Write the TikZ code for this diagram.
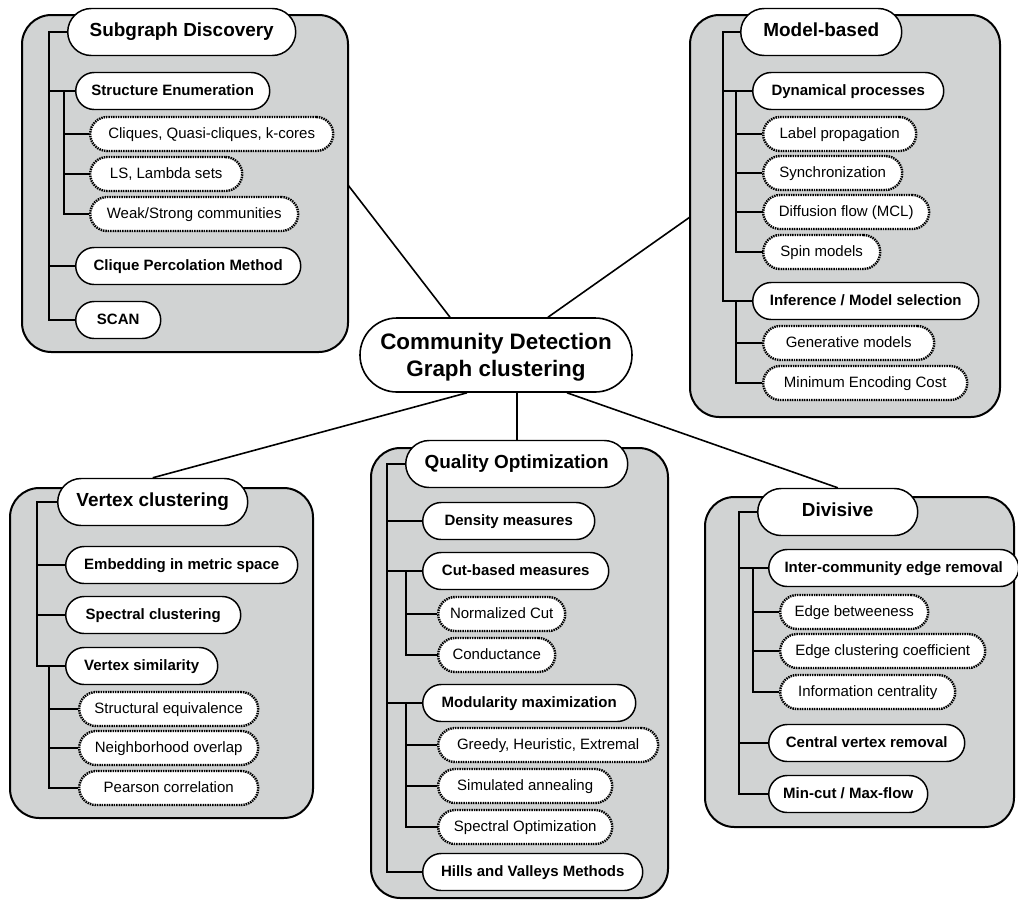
\documentclass[tikz,border=0pt]{standalone}
\usepackage{fontspec}
\setmainfont{Liberation Sans}
\usetikzlibrary{calc}
\definecolor{panelgray}{RGB}{209,211,211}
\begin{document}
\begin{tikzpicture}[x=0.75pt,y=-0.75pt,
  panel/.style={draw, fill=panelgray, line width=1.5pt, rounded corners=22pt},
  pill/.style={draw, fill=white, anchor=west, inner sep=0pt, align=center, line width=1.1pt,
               text height=0.78em, text depth=0.04em},
  heading/.style={pill, minimum height=35.25pt, rounded corners=17.6pt, font=\fontsize{14.2}{17}\selectfont\bfseries},
  topic/.style={pill, minimum height=27.75pt, rounded corners=13.85pt, font=\fontsize{11.25}{13.5}\selectfont\bfseries},
  method/.style={pill, line width=1.8pt, dash pattern=on 1.1pt off 0.7pt, minimum height=25.5pt, rounded corners=12.7pt, font=\fontsize{11.25}{13.5}\selectfont},
  wd/.style={minimum width=#1*0.75pt},
  trunk/.style={line width=1.6pt},
  twig/.style={line width=2.2pt, dash pattern=on 1.2pt off 0.8pt,
               preaction={draw, solid, line width=0.9pt}},
  link/.style={line width=1.2pt}]
\useasboundingbox (0,0) rectangle (1018,901);

% ---- grey panels ----
\draw[panel] (22,15) rectangle (348,352);
\draw[panel] (690,15) rectangle (1000,417);
\draw[panel] (10,488) rectangle (313,818);
\draw[panel] (371,448) rectangle (668,898);
\draw[panel] (705,497) rectangle (1014,827);
\coordinate (sgE) at (348,185);
\coordinate (mbW) at (690,217);

% ---- central node ----
\node[draw, fill=white, line width=1.2pt, minimum width=204pt, minimum height=55.5pt,
      rounded corners=27.7pt, inner sep=0pt, align=center, text depth=0pt,
      font=\fontsize{16.8}{20.25}\selectfont\bfseries] (cd) at (496,355)
      {Community Detection\\Graph clustering};

% ---- Subgraph Discovery ----
\node[heading, wd=228] (sgt) at (67,32) {Subgraph Discovery};
\node[topic, wd=194] (se) at (75,91) {Structure Enumeration};
\node[method, wd=243] (cl) at (89,134) {Cliques, Quasi-cliques, k-cores};
\node[method, wd=152] (ls) at (89,174) {LS, Lambda sets};
\node[method, wd=208] (ws) at (89,214) {Weak/Strong communities};
\node[topic, wd=225] (cpm) at (75,266) {Clique Percolation Method};
\node[topic, wd=85] (scan) at (75,320) {SCAN};
\coordinate (sgr) at (49,32);
\coordinate (ser) at (64,91);
\draw[trunk] (sgt.west) -- (sgr) |- (scan.west);
\draw[trunk] (sgr) |- (se.west);
\draw[trunk] (sgr) |- (cpm.west);
\draw[twig] (ser) |- (ws.west);
\draw[twig] (ser) |- (ls.west);
\draw[twig] (ser) |- (cl.west);

% ---- Model-based ----
\node[heading, wd=161] (mbt) at (740,32) {Model-based};
\node[topic, wd=191] (dp) at (752,91) {Dynamical processes};
\node[method, wd=153] (lp) at (762,134) {Label propagation};
\node[method, wd=139] (sy) at (762,173) {Synchronization};
\node[method, wd=166] (df) at (762,212) {Diffusion flow (MCL)};
\node[method, wd=117] (spm) at (762,252) {Spin models};
\node[topic, wd=226] (inf) at (752,301) {Inference / Model selection};
\node[method, wd=171] (gm) at (762,343) {Generative models};
\node[method, wd=204] (mec) at (762,383) {Minimum Encoding Cost};
\coordinate (mbr) at (723,32);
\coordinate (dpr) at (736,91);
\coordinate (infr) at (736,301);
\draw[trunk] (mbt.west) -- (mbr) |- (inf.west);
\draw[trunk] (mbr) |- (dp.west);
\draw[twig] (dpr) |- (spm.west);
\draw[twig] (dpr) |- (df.west);
\draw[twig] (dpr) |- (sy.west);
\draw[twig] (dpr) |- (lp.west);
\draw[twig] (infr) |- (mec.west);
\draw[twig] (infr) |- (gm.west);

% ---- Vertex clustering ----
\node[heading, wd=190] (vct) at (57,502) {Vertex clustering};
\node[topic, wd=232] (emb) at (65,565) {Embedding in metric space};
\node[topic, wd=175] (spc) at (65,615) {Spectral clustering};
\node[topic, wd=152] (vs) at (65,666) {Vertex similarity};
\node[method, wd=179] (seq) at (78,709) {Structural equivalence};
\node[method, wd=179] (no) at (78,748) {Neighborhood overlap};
\node[method, wd=179] (pc) at (78,788) {Pearson correlation};
\coordinate (vcr) at (37,502);
\coordinate (vsr) at (49,666);
\draw[trunk] (vct.west) -- (vcr) |- (vs.west);
\draw[trunk] (vcr) |- (emb.west);
\draw[trunk] (vcr) |- (spc.west);
\draw[twig] (vsr) |- (pc.west);
\draw[twig] (vsr) |- (no.west);
\draw[twig] (vsr) |- (seq.west);

% ---- Quality Optimization ----
\node[heading, wd=222] (qot) at (405,464) {Quality Optimization};
\node[topic, wd=172] (den) at (422,521) {Density measures};
\node[topic, wd=186] (cut) at (422,571) {Cut-based measures};
\node[method, wd=127] (nc) at (437,614) {Normalized Cut};
\node[method, wd=117] (cond) at (437,655) {Conductance};
\node[topic, wd=213] (mod) at (422,703) {Modularity maximization};
\node[method, wd=220] (gre) at (437,745) {Greedy, Heuristic, Extremal};
\node[method, wd=174] (sa) at (437,786) {Simulated annealing};
\node[method, wd=174] (so) at (437,827) {Spectral Optimization};
\node[topic, wd=220] (hv) at (422,872) {Hills and Valleys Methods};
\coordinate (qor) at (387,464);
\coordinate (cutr) at (406,571);
\coordinate (modr) at (406,703);
\draw[trunk] (qot.west) -- (qor) |- (hv.west);
\draw[trunk] (qor) |- (den.west);
\draw[trunk] (qor) |- (cut.west);
\draw[trunk] (qor) |- (mod.west);
\draw[twig] (cutr) |- (cond.west);
\draw[twig] (cutr) |- (nc.west);
\draw[twig] (modr) |- (so.west);
\draw[twig] (modr) |- (sa.west);
\draw[twig] (modr) |- (gre.west);

% ---- Divisive ----
\node[heading, wd=160] (dvt) at (757,512) {Divisive};
\node[topic, wd=250] (ice) at (768,568) {Inter-community edge removal};
\node[method, wd=148] (eb) at (779,612) {Edge betweeness};
\node[method, wd=205] (ecc) at (779,651) {Edge clustering coefficient};
\node[method, wd=175] (ic) at (779,692) {Information centrality};
\node[topic, wd=196] (cvr) at (768,743) {Central vertex removal};
\node[topic, wd=159] (mc) at (768,794) {Min-cut / Max-flow};
\coordinate (dvr) at (739,512);
\coordinate (icer) at (753,568);
\draw[trunk] (dvt.west) -- (dvr) |- (mc.west);
\draw[trunk] (dvr) |- (ice.west);
\draw[trunk] (dvr) |- (cvr.west);
\draw[twig] (icer) |- (ic.west);
\draw[twig] (icer) |- (ecc.west);
\draw[twig] (icer) |- (eb.west);

% ---- links from the central node ----
\draw[link] ($(cd.north)+(-46,0)$) -- (sgE);
\draw[link] ($(cd.north)+(52,0)$) -- (mbW);
\draw[link] ($(cd.south)+(-29,0)$) -- (vct.north);
\draw[link] (cd.south -| qot.north) -- (qot.north);
\draw[link] ($(cd.south)+(71,0)$) -- (dvt.north);
\end{tikzpicture}
\end{document}
